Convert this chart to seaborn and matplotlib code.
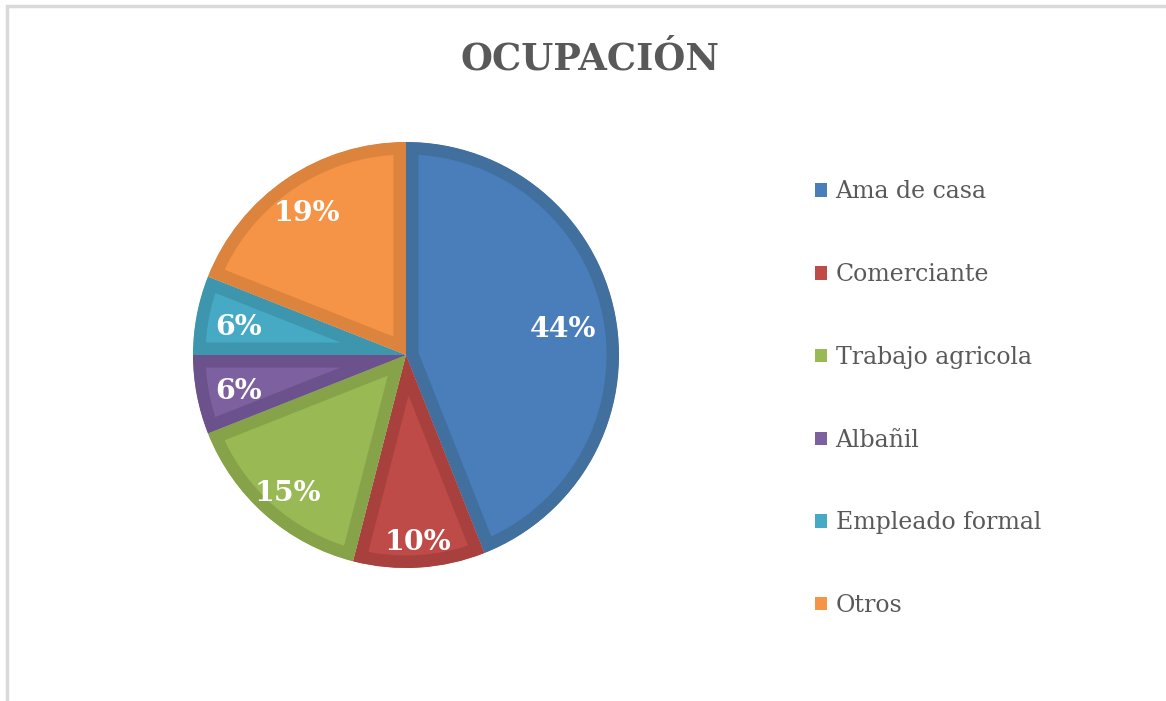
import numpy as np
import matplotlib
matplotlib.use("Agg")
import matplotlib.pyplot as plt
from matplotlib.patches import Patch, Rectangle, Wedge
import seaborn as sns

# datos del grafico
categorias = ["Ama de casa", "Comerciante", "Trabajo agricola", "Albañil", "Empleado formal", "Otros"]
porcentajes = [44, 10, 15, 6, 6, 19]
colores = ["#4a7ebb", "#be4b48", "#98b954", "#7d60a0", "#46aac5", "#f59446"]
bordes = ["#41709f", "#a8403d", "#86a34a", "#6b528c", "#3d96ae", "#dc833d"]
titulo = "OCUPACIÓN"

sns.set_theme(style="white")
plt.rcParams['font.family'] = ['DejaVu Serif']

fig = plt.figure(figsize=(11.66, 7.01), dpi=100)

# marco gris (solo lado izquierdo y superior visibles)
fig.patches.append(Rectangle((6.5 / 1166, -0.2), 2.0, 695.5 / 701 + 0.2, transform=fig.transFigure,
                             fill=False, edgecolor="#d9d9d9", linewidth=2.5))

# pie: centro (406, 355) px, radio 213 px
r_px = 213
ax = fig.add_axes([(406 - r_px) / 1166, (701 - 355 - r_px) / 701, 2 * r_px / 1166, 2 * r_px / 701])
wedges, _ = ax.pie(porcentajes, colors=colores, startangle=90, counterclock=False,
                   wedgeprops=dict(linewidth=18), radius=1)
ax.set_xlim(-1, 1)
ax.set_ylim(-1, 1)
ax.axis("off")
for w, b in zip(wedges, bordes):
    w.set_edgecolor(b)
    # recorte con la misma cuña -> solo queda el borde interior
    recorte = Wedge(w.center, w.r, w.theta1, w.theta2, transform=ax.transData)
    w.set_clip_on(True)  # pie pone clip_on=False
    w.set_clip_path(recorte)

# etiquetas de porcentaje
distancias = [0.75, 0.86, 0.84, 0.80, 0.80, 0.83]
inicio = 90
for p, d in zip(porcentajes, distancias):
    medio = inicio - p * 3.6 / 2
    inicio -= p * 3.6
    ang = np.deg2rad(medio)
    ax.text(d * np.cos(ang), d * np.sin(ang) - 0.02, "{}%".format(p), ha="center", va="center",
            color="white", fontsize=20.5, fontweight="bold")

# titulo
fig.text(590 / 1166, 1 - 60 / 701, titulo, ha="center", va="center", fontsize=26.5,
         fontweight="bold", color="#595959")

# leyenda
handles = [Patch(facecolor=c, edgecolor="none") for c in colores]
leg = fig.legend(handles, categorias, loc="upper left", bbox_to_anchor=(806 / 1166, 1 - 171 / 701),
                 frameon=False, fontsize=17, handlelength=0.5, handleheight=0.5,
                 handletextpad=0.35, labelspacing=2.53, borderaxespad=0)
for t in leg.get_texts():
    t.set_color("#595959")

fig.savefig("out.png", dpi=100)
